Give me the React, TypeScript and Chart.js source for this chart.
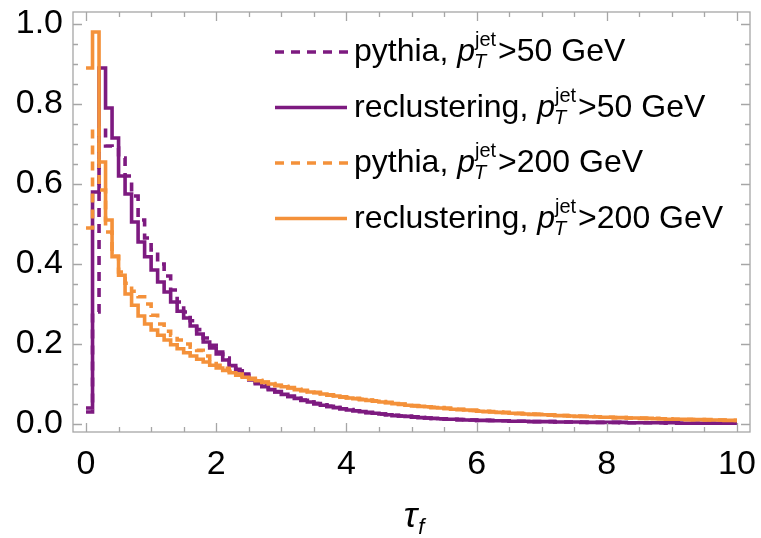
import React, { useEffect, useRef } from 'react';
import { Chart, registerables } from 'chart.js';

Chart.register(...registerables);

// ---------- data ----------
const BIN_WIDTH = 0.1;
const X_TICKS = [0, 2, 4, 6, 8, 10];
const Y_TICKS = [0, 0.2, 0.4, 0.6, 0.8, 1.0];

// pythia, pT^jet > 50 GeV (dashed purple)
const PYTHIA_50 = [
  0.030, 0.280, 0.740, 0.695, 0.690, 0.665, 0.620, 0.570, 0.510, 0.465,
  0.435, 0.400, 0.370, 0.335, 0.305, 0.280, 0.258, 0.236, 0.215, 0.197,
  0.180, 0.165, 0.150, 0.137, 0.125, 0.114, 0.104, 0.096, 0.088, 0.081,
  0.075, 0.069, 0.064, 0.060, 0.055, 0.051, 0.048, 0.044, 0.041, 0.038,
  0.036, 0.033, 0.031, 0.029, 0.027, 0.025, 0.023, 0.022, 0.020, 0.019,
  0.018, 0.016, 0.015, 0.014, 0.013, 0.013, 0.012, 0.011, 0.011, 0.010,
  0.009, 0.009, 0.009, 0.008, 0.008, 0.007, 0.007, 0.007, 0.006, 0.006,
  0.006, 0.006, 0.005, 0.005, 0.005, 0.005, 0.004, 0.004, 0.004, 0.004,
  0.004, 0.004, 0.003, 0.003, 0.003, 0.003, 0.003, 0.003, 0.003, 0.002,
  0.002, 0.002, 0.002, 0.002, 0.002, 0.002, 0.002, 0.002, 0.002, 0.002,
];

// reclustering, pT^jet > 50 GeV (solid purple)
const RECL_50 = [
  0.040, 0.580, 0.890, 0.790, 0.715, 0.620, 0.575, 0.505, 0.455, 0.418,
  0.385, 0.355, 0.330, 0.305, 0.282, 0.265, 0.245, 0.225, 0.205, 0.190,
  0.175, 0.160, 0.146, 0.133, 0.121, 0.110, 0.101, 0.093, 0.086, 0.080,
  0.074, 0.069, 0.064, 0.059, 0.055, 0.051, 0.047, 0.044, 0.041, 0.038,
  0.035, 0.033, 0.031, 0.028, 0.027, 0.025, 0.023, 0.021, 0.020, 0.019,
  0.017, 0.016, 0.015, 0.014, 0.013, 0.012, 0.012, 0.011, 0.010, 0.010,
  0.009, 0.009, 0.008, 0.008, 0.008, 0.007, 0.007, 0.007, 0.006, 0.006,
  0.006, 0.006, 0.005, 0.005, 0.005, 0.005, 0.005, 0.004, 0.004, 0.004,
  0.004, 0.004, 0.004, 0.003, 0.003, 0.003, 0.003, 0.003, 0.003, 0.003,
  0.003, 0.002, 0.002, 0.002, 0.002, 0.002, 0.002, 0.002, 0.002, 0.002,
];

// pythia, pT^jet > 200 GeV (dashed orange)
const PYTHIA_200 = [
  0.490, 0.740, 0.585, 0.480, 0.420, 0.380, 0.352, 0.332, 0.318, 0.300,
  0.272, 0.250, 0.232, 0.222, 0.210, 0.200, 0.192, 0.184, 0.170, 0.158,
  0.147, 0.139, 0.132, 0.125, 0.119, 0.114, 0.109, 0.105, 0.101, 0.097,
  0.094, 0.091, 0.087, 0.084, 0.081, 0.079, 0.076, 0.073, 0.071, 0.068,
  0.066, 0.064, 0.062, 0.060, 0.058, 0.056, 0.054, 0.052, 0.050, 0.048,
  0.046, 0.045, 0.043, 0.042, 0.041, 0.039, 0.038, 0.037, 0.036, 0.034,
  0.033, 0.032, 0.031, 0.030, 0.029, 0.028, 0.027, 0.026, 0.025, 0.024,
  0.023, 0.023, 0.022, 0.021, 0.020, 0.020, 0.019, 0.019, 0.018, 0.017,
  0.017, 0.016, 0.016, 0.015, 0.015, 0.015, 0.014, 0.014, 0.013, 0.013,
  0.012, 0.012, 0.012, 0.011, 0.011, 0.011, 0.010, 0.010, 0.010, 0.009,
];

// reclustering, pT^jet > 200 GeV (solid orange)
const RECL_200 = [
  0.890, 0.980, 0.655, 0.510, 0.418, 0.372, 0.325, 0.297, 0.270, 0.250,
  0.235, 0.222, 0.210, 0.198, 0.188, 0.178, 0.170, 0.162, 0.155, 0.147,
  0.140, 0.134, 0.128, 0.122, 0.117, 0.112, 0.108, 0.104, 0.100, 0.096,
  0.093, 0.090, 0.086, 0.083, 0.080, 0.078, 0.075, 0.072, 0.070, 0.067,
  0.065, 0.063, 0.061, 0.059, 0.057, 0.055, 0.053, 0.051, 0.049, 0.047,
  0.045, 0.044, 0.043, 0.041, 0.040, 0.039, 0.037, 0.036, 0.035, 0.034,
  0.032, 0.031, 0.030, 0.029, 0.028, 0.027, 0.026, 0.025, 0.024, 0.024,
  0.023, 0.022, 0.021, 0.021, 0.020, 0.019, 0.019, 0.018, 0.018, 0.017,
  0.017, 0.016, 0.016, 0.015, 0.015, 0.014, 0.014, 0.013, 0.013, 0.012,
  0.012, 0.012, 0.011, 0.011, 0.011, 0.010, 0.010, 0.010, 0.009, 0.009,
];

const LEGEND_PREFIX = ['pythia, ', 'reclustering, ', 'pythia, ', 'reclustering, '];
const LEGEND_SUFFIX = ['>50 GeV', '>50 GeV', '>200 GeV', '>200 GeV'];

// ---------- style ----------
const PURPLE = '#7d1a80';
const ORANGE = '#f4913a';
const DASH = [9, 7];
const LINE_W = 3.6;
const FONT = '"Liberation Sans", Arial, Helvetica, sans-serif';
const FRAME_COLOR = '#a6a6a6';

function toSteps(values: number[]) {
  const pts = values.map((v, i) => ({ x: Math.round(i * BIN_WIDTH * 100) / 100, y: v }));
  pts.push({ x: Math.round(values.length * BIN_WIDTH * 100) / 100, y: values[values.length - 1] });
  return pts;
}

const SERIES = [
  { values: PYTHIA_50, color: PURPLE, dashed: true },
  { values: RECL_50, color: PURPLE, dashed: false },
  { values: PYTHIA_200, color: ORANGE, dashed: true },
  { values: RECL_200, color: ORANGE, dashed: false },
];

const decorPlugin = {
  id: 'decor',
  afterDatasetsDraw(chart: any) {
    const { ctx, chartArea, scales } = chart;
    const xs = scales.x;
    const ys = scales.y;
    const { left, right, top, bottom } = chartArea;
    ctx.save();
    // frame
    ctx.strokeStyle = FRAME_COLOR;
    ctx.lineWidth = 1.3;
    ctx.setLineDash([]);
    ctx.strokeRect(left, top, right - left, bottom - top);
    // ticks (inward, all 4 sides)
    ctx.beginPath();
    for (let k = 0; k <= 20; k++) {
      const v = k * 0.5;
      const px = Math.round(xs.getPixelForValue(v)) + 0.5;
      const len = k % 4 === 0 ? 9 : 5;
      ctx.moveTo(px, bottom);
      ctx.lineTo(px, bottom - len);
      ctx.moveTo(px, top);
      ctx.lineTo(px, top + len);
    }
    for (let k = 0; k <= 20; k++) {
      const v = k * 0.05;
      const py = Math.round(ys.getPixelForValue(v)) + 0.5;
      const len = k % 4 === 0 ? 9 : 5;
      ctx.moveTo(left, py);
      ctx.lineTo(left + len, py);
      ctx.moveTo(right, py);
      ctx.lineTo(right - len, py);
    }
    ctx.stroke();

    // legend
    const rowY0 = 52;
    const rowStep = 55.5;
    SERIES.forEach((s, i) => {
      const y = rowY0 + i * rowStep;
      ctx.strokeStyle = s.color;
      ctx.lineWidth = LINE_W;
      ctx.setLineDash(s.dashed ? DASH : []);
      ctx.beginPath();
      ctx.moveTo(275, y);
      ctx.lineTo(s.dashed ? 348 : 347, y);
      ctx.stroke();
      ctx.setLineDash([]);

      const base = y + 9;
      let x = 354;
      ctx.fillStyle = '#000';
      ctx.textBaseline = 'alphabetic';
      ctx.textAlign = 'left';
      ctx.font = `32px ${FONT}`;
      ctx.fillText(LEGEND_PREFIX[i], x, base);
      x += ctx.measureText(LEGEND_PREFIX[i]).width;
      ctx.font = `italic 32px ${FONT}`;
      ctx.fillText('p', x, base);
      x += ctx.measureText('p').width - 1;
      ctx.font = `20px ${FONT}`;
      ctx.fillText('jet', x + 1, base - 15);
      const wj = ctx.measureText('jet').width;
      ctx.font = `italic 20px ${FONT}`;
      ctx.fillText('T', x, base + 7);
      const wt = ctx.measureText('T').width;
      x += Math.max(wj, wt) + 3;
      ctx.font = `32px ${FONT}`;
      ctx.fillText(LEGEND_SUFFIX[i], x, base);
    });

    // x axis title: tau_f
    ctx.fillStyle = '#000';
    ctx.font = `italic 36px ${FONT}`;
    ctx.textAlign = 'left';
    ctx.textBaseline = 'alphabetic';
    const tw = ctx.measureText('τ').width;
    const cx = (left + right) / 2 + 4;
    const tx = cx - (tw + 10) / 2;
    ctx.fillText('τ', tx, 527);
    ctx.font = `italic 22px ${FONT}`;
    ctx.fillText('f', tx + tw + 1, 534);
    ctx.restore();
  },
};

export default function App() {
  const ref = useRef<HTMLCanvasElement | null>(null);
  useEffect(() => {
    if (!ref.current) return;
    const order = [3, 2, 1, 0]; // later series drawn on top
    const chart = new Chart(ref.current, {
      type: 'line',
      data: {
        datasets: order.map((idx) => {
          const s = SERIES[idx];
          return {
            label: LEGEND_PREFIX[idx] + LEGEND_SUFFIX[idx],
            data: toSteps(s.values),
            borderColor: s.color,
            backgroundColor: s.color,
            borderWidth: LINE_W,
            borderDash: s.dashed ? DASH : [],
            borderJoinStyle: 'miter',
            borderCapStyle: 'butt',
            pointRadius: 0,
            fill: false,
            stepped: true,
            tension: 0,
          } as any;
        }),
      },
      options: {
        responsive: false,
        animation: false,
        devicePixelRatio: 1,
        layout: { padding: { top: 12, right: 11, left: 0, bottom: 0 } },
        plugins: { legend: { display: false }, tooltip: { enabled: false } },
        scales: {
          x: {
            type: 'linear',
            min: -0.2,
            max: 10.2,
            grid: { display: false, drawTicks: false },
            border: { display: false },
            afterBuildTicks: (scale: any) => {
              scale.ticks = X_TICKS.map((v) => ({ value: v }));
            },
            afterFit: (scale: any) => {
              scale.height = 106;
              scale.paddingLeft = 0;
              scale.paddingRight = 0;
            },
            ticks: {
              color: '#000',
              font: { family: FONT, size: 34 },
              padding: 12,
              maxRotation: 0,
              autoSkip: false,
              callback: (v: any) => String(v),
            },
          },
          y: {
            type: 'linear',
            min: -0.02,
            max: 1.03,
            grid: { display: false, drawTicks: false },
            border: { display: false },
            afterBuildTicks: (scale: any) => {
              scale.ticks = Y_TICKS.map((v) => ({ value: v }));
            },
            afterFit: (scale: any) => {
              scale.width = 73;
              scale.paddingTop = 0;
              scale.paddingBottom = 0;
            },
            ticks: {
              color: '#000',
              font: { family: FONT, size: 34 },
              padding: 10,
              autoSkip: false,
              callback: (v: any) => Number(v).toFixed(1),
            },
          },
        },
      },
      plugins: [decorPlugin],
    });
    return () => chart.destroy();
  }, []);
  return (
    <div style={{ position: 'fixed', left: 0, top: 0, width: 761, height: 538, background: '#fff' }}>
      <canvas ref={ref} width={761} height={538} style={{ display: 'block' }} />
    </div>
  );
}
